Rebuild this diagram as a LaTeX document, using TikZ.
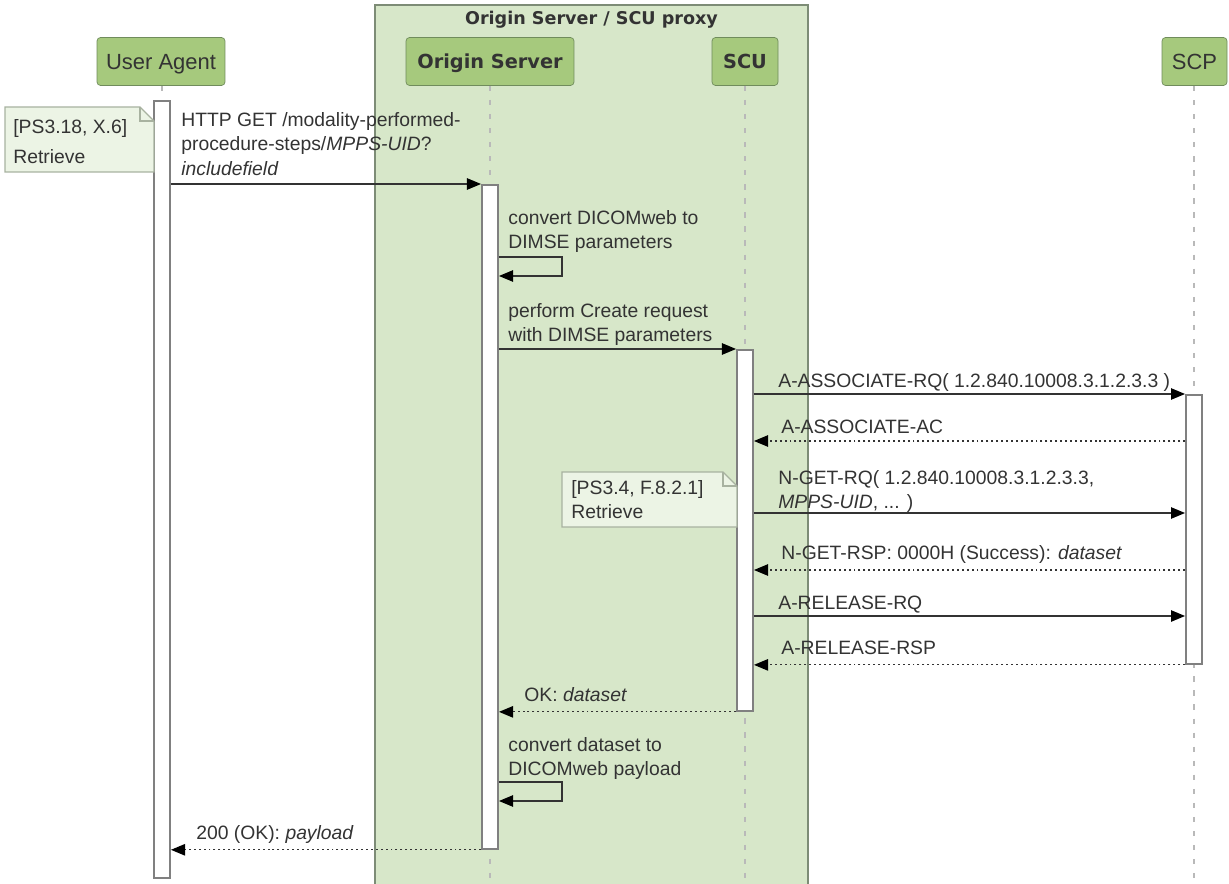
\documentclass[tikz,border=0pt]{standalone}
\usepackage{fontspec}
\setmainfont{Liberation Sans}
\newfontfamily\headfont{DejaVu Sans}
\usetikzlibrary{arrows.meta, positioning}
\definecolor{headfill}{RGB}{166,201,125}
\definecolor{headline}{RGB}{112,140,92}
\definecolor{grpfill}{RGB}{215,231,201}
\definecolor{grpline}{RGB}{125,140,118}
\definecolor{notefill}{RGB}{236,244,229}
\definecolor{noteline}{RGB}{168,178,160}
\definecolor{textgray}{RGB}{51,51,51}
\definecolor{bargray}{RGB}{128,128,128}
\definecolor{lifegray}{RGB}{185,185,185}

\begin{document}
\begin{tikzpicture}[x=0.02cm, y=-0.02cm,
    head/.style={draw=headline, fill=headfill, rounded corners=2pt, minimum height=0.96cm,
      text depth=0pt, text=textgray, font=\fontsize{12.5}{15}\selectfont},
    bold head/.style={head, font=\headfont\bfseries\fontsize{11}{13}\selectfont},
    bar/.style={draw=bargray, fill=white, line width=1.1pt, minimum width=0.32cm, inner sep=0},
    life/.style={draw=lifegray, line width=1.1pt, dash pattern=on 3pt off 5pt},
    msg/.style={draw=textgray, line width=0.7pt, -{Triangle[length=8pt, width=6.5pt, color=black]}},
    ret/.style={msg, dash pattern=on 1.1pt off 1.7pt},
    lbl/.style={anchor=north west, inner sep=0, align=left, text=textgray, font=\fontsize{11}{14}\selectfont},
    note/.style={draw=noteline, fill=notefill, line width=0.7pt}]
  \useasboundingbox (0,0) rectangle (1229,884);

  % group
  \fill[grpfill] (375,5) rectangle (808,884);
  \draw[grpline, line width=0.8pt] (375,884) -- (375,5) -- (808,5) -- (808,884);
  \node[text=textgray, font=\headfont\bfseries\fontsize{10}{12}\selectfont] (grp) at (591.5,20) {Origin Server / SCU proxy};

  % participants
  \node[head, minimum width=2.56cm] (ua) at (161,61.5) {User Agent};
  \node[bold head, minimum width=3.36cm] (os) at (490,61.5) {Origin Server};
  \node[bold head, minimum width=1.32cm] (scu) at (745,61.5) {SCU};
  \node[head, minimum width=1.3cm] (scp) at (1194.5,61.5) {SCP};

  \draw[life] (162,86) -- (162,884);
  \draw[life] (os.south) -- (os.south |- 0,884);
  \draw[life] (scu.south) -- (scu.south |- 0,884);
  \draw[life] (1194,86) -- (1194,884);

  \node[bar, minimum height=15.54cm, anchor=north] (uabar) at (162,100) {};
  \node[bar, minimum height=13.28cm, anchor=north] (osbar) at (490,184) {};
  \node[bar, minimum height=7.22cm, anchor=north] (scubar) at (745,349) {};
  \node[bar, minimum height=5.38cm, anchor=north] (scpbar) at (1194,394) {};

  % notes
  \draw[note] (5,107) -- (140,107) -- (154,121) -- (154,172) -- (5,172) -- cycle;
  \draw[note, fill=none] (140,107) -- (140,121) -- (154,121);
  \node[lbl] (note1) at (13,119) {[PS3.18, X.6]\\[3pt]Retrieve};
  \draw[note] (562,472) -- (723,472) -- (737,486) -- (737,527) -- (562,527) -- cycle;
  \draw[note, fill=none] (723,472) -- (723,486) -- (737,486);
  \node[lbl] (note2) at (571,480) {[PS3.4, F.8.2.1]\\Retrieve};

  % messages
  \draw[msg] (uabar.east |- osbar.north) -- (osbar.north west);
  \node[lbl] (m1) at (181,112) {HTTP GET /modality-performed-\\procedure-steps/\textit{MPPS-UID}?\\\textit{includefield}};
  \draw[msg] (osbar.east |- 0,257) -| (562,276) -- (osbar.east |- 0,276);
  \node[lbl] (m2) at (508,210) {convert DICOMweb to\\DIMSE parameters};
  \draw[msg] (osbar.east |- scubar.north) -- (scubar.north west);
  \node[lbl] (m3) at (508,303) {perform Create request\\with DIMSE parameters};
  \draw[msg] (scubar.east |- scpbar.north) -- (scpbar.north west);
  \node[lbl] (m4) at (778,373) {A-ASSOCIATE-RQ( 1.2.840.10008.3.1.2.3.3 )};
  \draw[ret] (scpbar.west |- 0,441) -- (scubar.east |- 0,441);
  \node[lbl] (m5) at (781,420) {A-ASSOCIATE-AC};
  \draw[msg] (scubar.east |- 0,513) -- (scpbar.west |- 0,513);
  \node[lbl] (m6) at (778,470) {N-GET-RQ( 1.2.840.10008.3.1.2.3.3,\\\textit{MPPS-UID}, ... )};
  \draw[ret] (scpbar.west |- 0,570) -- (scubar.east |- 0,570);
  \node[lbl] (m7) at (781,545) {N-GET-RSP: 0000H (Success): \textit{dataset}};
  \draw[msg] (scubar.east |- 0,616) -- (scpbar.west |- 0,616);
  \node[lbl] (m8) at (778,596) {A-RELEASE-RQ};
  \draw[ret] (scpbar.south west) -- (scubar.east |- scpbar.south);
  \node[lbl] (m9) at (781,641) {A-RELEASE-RSP};
  \draw[ret] (scubar.south west) -- (osbar.east |- scubar.south);
  \node[lbl] (m10) at (524,687) {OK: \textit{dataset}};
  \draw[msg] (osbar.east |- 0,782) -| (562,801) -- (osbar.east |- 0,801);
  \node[lbl] (m11) at (508,737) {convert dataset to\\DICOMweb payload};
  \draw[ret] (osbar.south west) -- (uabar.east |- osbar.south);
  \node[lbl] (m12) at (196,825) {200 (OK): \textit{payload}};
\end{tikzpicture}
\end{document}
